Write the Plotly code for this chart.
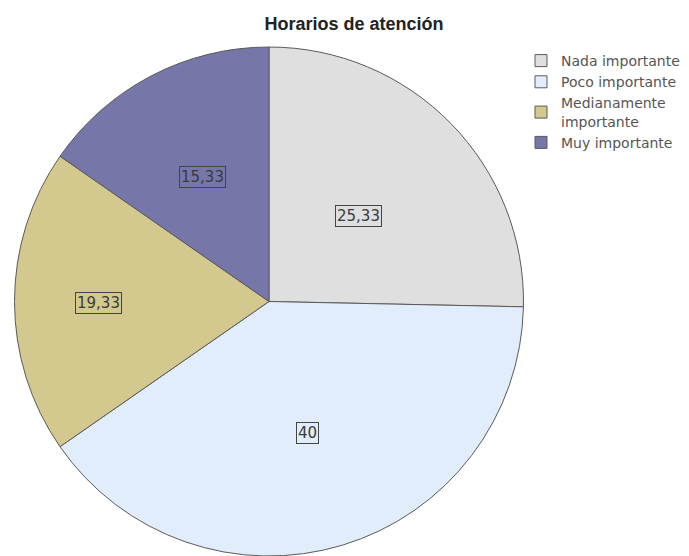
import math
import plotly.graph_objects as go

categories = ["Nada importante", "Poco importante", "Medianamente<br>importante", "Muy importante"]
values = [25.33, 40, 19.33, 15.33]
value_labels = ["25,33", "40", "19,33", "15,33"]
colors = ["#dfdfdf", "#e2edfb", "#d3c98f", "#7776a9"]
label_radius = [0.49, 0.53, 0.67, 0.56]

W, H = 689, 556
x0, x1 = 12, 526
ytop, ybot = 47, 556
R = (ybot - ytop) / 2
cx = (x0 + x1) / 2
cy = ytop + R

fig = go.Figure(go.Pie(
    labels=categories,
    values=values,
    sort=False,
    direction="clockwise",
    rotation=0,
    marker=dict(colors=colors, line=dict(color="#5a5a5a", width=1)),
    textinfo="none",
    hoverinfo="label+value",
    domain=dict(x=[x0 / W, x1 / W], y=[1 - ybot / H, 1 - ytop / H]),
))

total = sum(values)
cum = 0
annotations = []
for v, lab, rf in zip(values, value_labels, label_radius):
    mid = (cum + v / 2) / total * 2 * math.pi
    cum += v
    px = cx + rf * R * math.sin(mid)
    py = cy - rf * R * math.cos(mid) + 2
    annotations.append(dict(
        x=px / W, y=1 - py / H, xref="paper", yref="paper",
        xanchor="center", yanchor="middle",
        text=lab, showarrow=False,
        font=dict(family="DejaVu Sans", size=15, color="#3a3a3a"),
        bordercolor="#444444", borderwidth=1, borderpad=1,
    ))

fig.update_layout(
    width=W, height=H,
    margin=dict(l=0, r=0, t=0, b=0),
    paper_bgcolor="white",
    plot_bgcolor="white",
    title=dict(text="<b>Horarios de atención</b>", x=354 / W, y=1 - 24 / H,
               xanchor="center", yanchor="middle",
               font=dict(family="Liberation Sans, Arial", size=18, color="#222222")),
    legend=dict(x=521 / W, y=1 - 45 / H, xanchor="left", yanchor="top",
                font=dict(family="DejaVu Sans", size=14, color="#555555"),
                itemwidth=30, bgcolor="rgba(0,0,0,0)"),
    annotations=annotations,
)

fig.write_html("out.html", config={"displayModeBar": False},
               post_script="document.body.style.margin='0';")
